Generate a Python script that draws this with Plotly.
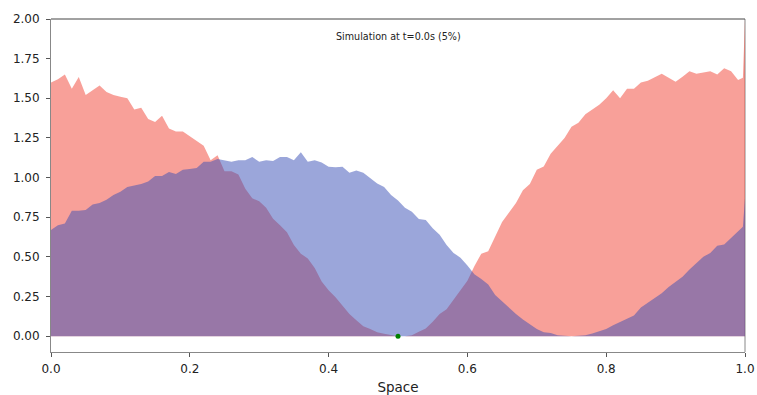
import plotly.graph_objects as go

# Grid positions (spacing 0.01, plus the two boundary nodes)
space = [round(0.01 * k, 2) for k in range(100)] + [0.997, 1.0]

# Density of species A (red)
rho_a = [
    1.60, 1.62, 1.65, 1.56, 1.635, 1.52, 1.55, 1.58, 1.54, 1.52,
    1.51, 1.50, 1.43, 1.44, 1.37, 1.35, 1.39, 1.31, 1.29, 1.29,
    1.26, 1.23, 1.20, 1.11, 1.14, 1.04, 1.04, 1.02, 0.93, 0.87,
    0.85, 0.81, 0.74, 0.70, 0.655, 0.575, 0.52, 0.49, 0.43, 0.345,
    0.29, 0.245, 0.196, 0.14, 0.10, 0.062, 0.045, 0.024, 0.015, 0.006,
    0.0, 0.0, 0.006, 0.027, 0.048, 0.09, 0.14, 0.17, 0.23, 0.29,
    0.35, 0.44, 0.52, 0.535, 0.63, 0.72, 0.78, 0.84, 0.92, 0.96,
    1.05, 1.07, 1.15, 1.20, 1.25, 1.32, 1.345, 1.40, 1.43, 1.46,
    1.50, 1.55, 1.50, 1.56, 1.56, 1.60, 1.61, 1.63, 1.655, 1.63,
    1.605, 1.636, 1.67, 1.655, 1.663, 1.67, 1.65, 1.69, 1.67, 1.615,
    1.63, 2.0,
]

# Density of species B (blue)
rho_b = [
    0.67, 0.70, 0.71, 0.79, 0.79, 0.795, 0.83, 0.84, 0.86, 0.89,
    0.91, 0.94, 0.95, 0.96, 0.975, 1.01, 1.01, 1.035, 1.022, 1.05,
    1.054, 1.06, 1.10, 1.10, 1.117, 1.11, 1.10, 1.11, 1.11, 1.13,
    1.10, 1.11, 1.105, 1.13, 1.13, 1.11, 1.16, 1.10, 1.11, 1.095,
    1.068, 1.065, 1.068, 1.03, 1.045, 1.03, 0.995, 0.963, 0.94, 0.89,
    0.855, 0.81, 0.784, 0.738, 0.732, 0.68, 0.64, 0.574, 0.525, 0.495,
    0.445, 0.39, 0.36, 0.325, 0.26, 0.22, 0.178, 0.14, 0.105, 0.075,
    0.045, 0.025, 0.02, 0.006, 0.002, 0.0, 0.002, 0.006, 0.017, 0.03,
    0.045, 0.068, 0.09, 0.11, 0.13, 0.18, 0.21, 0.245, 0.27, 0.31,
    0.345, 0.375, 0.42, 0.46, 0.50, 0.525, 0.57, 0.578, 0.62, 0.665,
    0.69, 0.87,
]

# Tracked point
probe_x = [0.5]
probe_y = [0.0]

title_text = "Simulation at t=0.0s (5%)"
x_ticks = [0.0, 0.2, 0.4, 0.6, 0.8, 1.0]
y_ticks = [0.0, 0.25, 0.5, 0.75, 1.0, 1.25, 1.5, 1.75, 2.0]

font_family = "DejaVu Sans"

fig = go.Figure()

fig.add_trace(go.Scatter(
    x=space, y=rho_a, mode="lines", fill="tozeroy",
    line=dict(width=0, color="rgba(241,65,51,0.5)"),
    fillcolor="rgba(241,65,51,0.5)", hoverinfo="skip", showlegend=False,
))
fig.add_trace(go.Scatter(
    x=space, y=rho_b, mode="lines", fill="tozeroy",
    line=dict(width=0, color="rgba(55,77,181,0.5)"),
    fillcolor="rgba(55,77,181,0.5)", hoverinfo="skip", showlegend=False,
))
fig.add_trace(go.Scatter(
    x=probe_x, y=probe_y, mode="markers",
    marker=dict(color="green", size=5), hoverinfo="skip", showlegend=False,
))

fig.add_annotation(
    x=0.5, y=1.89, xref="x", yref="y", text=title_text, showarrow=False,
    xanchor="center", yanchor="middle",
    font=dict(family=font_family, size=9.6, color="#222"),
)

# Top and right frame lines
fig.add_shape(type="line", xref="paper", yref="paper", x0=0, x1=1, y0=1, y1=1,
              line=dict(color="#444", width=1), layer="above")
fig.add_shape(type="line", xref="paper", yref="paper", x0=1, x1=1, y0=0, y1=1,
              line=dict(color="#888", width=1), layer="below")

fig.update_layout(
    width=757, height=395,
    margin=dict(l=51, r=12, t=19, b=43, autoexpand=False),
    paper_bgcolor="white", plot_bgcolor="white",
    font=dict(family=font_family, color="#222"),
    xaxis=dict(
        range=[0, 1], tickvals=x_ticks, tickformat=".1f", automargin=False,
        showgrid=False, zeroline=False,
        showline=True, linecolor="#888", linewidth=1,
        ticks="outside", ticklen=4, tickcolor="#555", tickwidth=1,
        ticklabelstandoff=2,
        tickfont=dict(size=12, family=font_family, color="#222"),
        title=dict(text="Space", font=dict(size=13.5, family=font_family, color="#222"), standoff=8),
    ),
    yaxis=dict(
        range=[-0.1, 2.0], tickvals=y_ticks, tickformat=".2f", automargin=False,
        showgrid=False, zeroline=False,
        showline=True, linecolor="#888", linewidth=1,
        ticks="outside", ticklen=4, tickcolor="#555", tickwidth=1,
        ticklabelstandoff=4,
        tickfont=dict(size=12, family=font_family, color="#222"),
    ),
)

fig.write_html("out.html")
